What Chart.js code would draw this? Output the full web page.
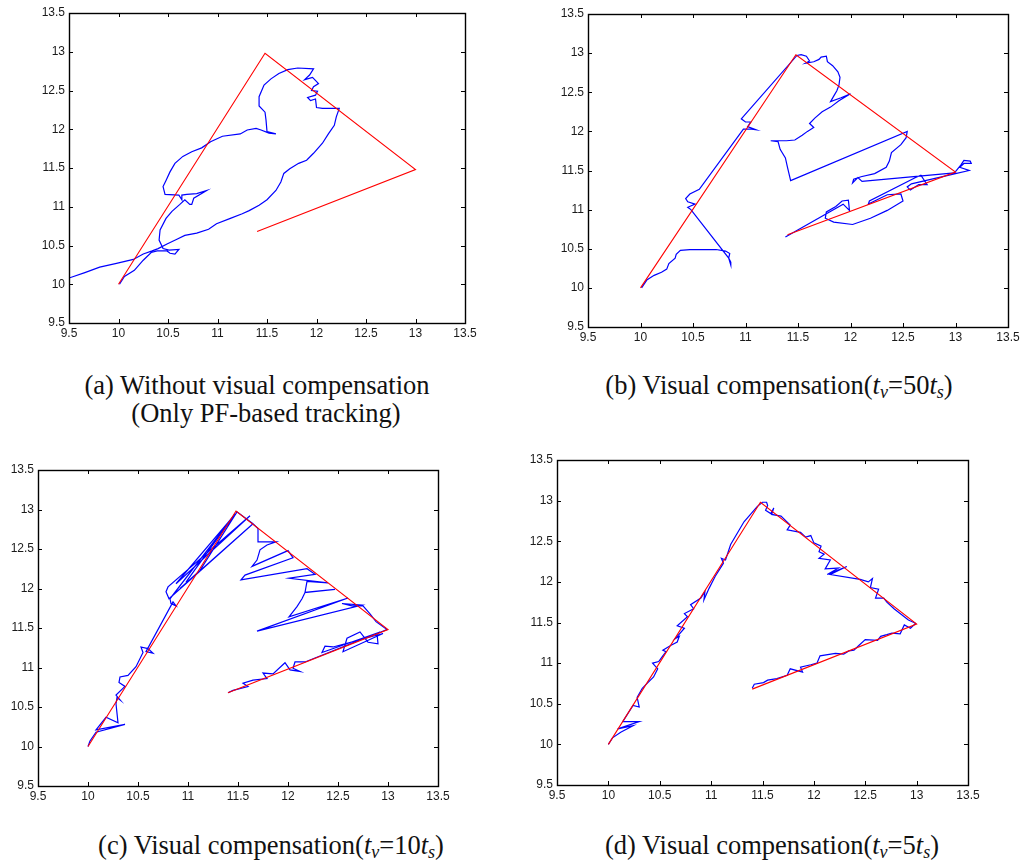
<!DOCTYPE html>
<html>
<head>
<meta charset="utf-8">
<script src="https://cdn.jsdelivr.net/npm/chart.js@4.4.1/dist/chart.umd.min.js"></script>
<style>
  html, body { margin: 0; padding: 0; background: #fff; }
  body { width: 1023px; height: 864px; position: relative; overflow: hidden; }
  canvas { position: absolute; }
  .cap {
    position: absolute; width: 520px; text-align: center; white-space: nowrap;
    font-family: "Liberation Serif", "Times New Roman", serif; font-size: 26.5px;
    line-height: 30px; color: #111;
  }
  .cap sub { font-size: 0.68em; vertical-align: -0.22em; line-height: 0; }
</style>
</head>
<body>
<canvas id="pa" width="482" height="345" style="left:0;top:0"></canvas>
<canvas id="pb" width="505" height="350" style="left:518px;top:0"></canvas>
<canvas id="pc" width="455" height="353" style="left:0;top:456px"></canvas>
<canvas id="pd" width="480" height="362" style="left:510px;top:446px"></canvas>

<div class="cap" style="left:-3px;top:370px">(a) Without visual compensation</div>
<div class="cap" style="left:6px;top:398px">(Only PF-based tracking)</div>
<div class="cap" style="left:519px;top:370px">(b) Visual compensation(<i>t</i><sub><i>v</i></sub>=50<i>t</i><sub><i>s</i></sub>)</div>
<div class="cap" style="left:11px;top:830px">(c) Visual compensation(<i>t</i><sub><i>v</i></sub>=10<i>t</i><sub><i>s</i></sub>)</div>
<div class="cap" style="left:512px;top:830px">(d) Visual compensation(<i>t</i><sub><i>v</i></sub>=5<i>t</i><sub><i>s</i></sub>)</div>

<script>
// reference path (red) shared by all four plots
const refX = [10, 11.48, 13, 11.4];
const refY = [10, 12.98, 11.48, 10.68];

// axis ticks
const axisMin = 9.5;
const axisMax = 13.5;
const axisStep = 0.5;

// (a) PF tracking only
const trackA = [
  [10.01,10.00],[10.06,10.10],[10.16,10.18],[10.25,10.31],[10.33,10.41],[10.39,10.43],
  [10.49,10.43],[10.52,10.40],[10.57,10.39],[10.61,10.45],[10.51,10.44],[10.45,10.46],
  [10.41,10.57],[10.42,10.70],[10.48,10.85],[10.54,10.94],[10.62,11.03],[10.67,11.09],
  [10.72,11.03],[10.74,11.03],[10.76,11.11],[10.89,11.21],[10.79,11.17],[10.69,11.16],
  [10.64,11.15],[10.64,11.09],[10.61,11.15],[10.47,11.16],[10.45,11.26],[10.48,11.34],
  [10.52,11.45],[10.57,11.56],[10.65,11.65],[10.74,11.71],[10.84,11.76],[10.93,11.84],
  [11.05,11.91],[11.23,11.94],[11.30,11.99],[11.39,12.01],[11.44,11.99],[11.52,11.95],
  [11.59,11.94],[11.50,11.97],[11.49,12.12],[11.48,12.22],[11.42,12.30],[11.42,12.42],
  [11.47,12.57],[11.54,12.65],[11.62,12.72],[11.71,12.77],[11.81,12.79],[11.97,12.78],
  [11.93,12.70],[11.88,12.64],[11.96,12.67],[12.02,12.59],[11.97,12.55],[11.95,12.50],
  [12.01,12.49],[11.99,12.44],[11.91,12.41],[11.94,12.37],[11.99,12.39],[12.00,12.28],
  [12.06,12.27],[12.23,12.27],[12.20,12.16],[12.18,12.05],[12.12,11.94],[12.06,11.82],
  [11.97,11.69],[11.90,11.60],[11.82,11.56],[11.73,11.49],[11.67,11.43],[11.64,11.32],
  [11.59,11.21],[11.50,11.09],[11.42,11.02],[11.32,10.95],[11.25,10.91],[11.13,10.85],
  [10.99,10.78],[10.91,10.71],[10.79,10.66],[10.67,10.63],[10.59,10.58],[10.49,10.52],
  [10.40,10.46],[10.34,10.43],[10.25,10.39],[10.15,10.32],[9.98,10.27],[9.81,10.22],
  [9.66,10.15],[9.50,10.08]
];

// (b) visual compensation, tv = 50 ts
const trackB = [
  [10.01,10.00],[10.06,10.10],[10.13,10.16],[10.20,10.20],[10.25,10.24],[10.27,10.31],
  [10.33,10.38],[10.34,10.43],[10.38,10.48],[10.47,10.49],[10.59,10.49],[10.72,10.49],
  [10.81,10.47],[10.85,10.44],[10.84,10.38],[10.86,10.33],[10.86,10.29],[10.84,10.38],
  [10.48,11.00],[10.45,11.03],[10.52,11.07],[10.45,11.10],[10.43,11.14],[10.47,11.20],
  [10.56,11.26],[10.98,12.03],[11.04,12.03],[11.10,12.02],[11.02,12.06],[11.05,12.12],
  [11.00,12.12],[10.96,12.16],[11.49,12.97],[11.53,12.98],[11.58,12.96],[11.61,12.90],
  [11.57,12.87],[11.65,12.89],[11.70,12.92],[11.72,12.95],[11.77,12.96],[11.78,12.89],
  [11.83,12.84],[11.88,12.76],[11.90,12.69],[11.89,12.59],[11.87,12.52],[11.84,12.45],
  [11.81,12.38],[11.91,12.43],[12.00,12.48],[11.89,12.39],[11.81,12.31],[11.73,12.25],
  [11.66,12.17],[11.61,12.10],[11.65,12.05],[11.59,12.00],[11.54,11.95],[11.47,11.89],
  [11.39,11.88],[11.31,11.88],[11.24,11.88],[11.31,11.87],[11.33,11.77],[11.38,11.66],
  [11.40,11.54],[11.43,11.37],[12.54,12.00],[12.53,11.92],[12.48,11.83],[12.39,11.73],
  [12.37,11.62],[12.34,11.54],[12.23,11.46],[12.10,11.42],[12.03,11.39],[12.02,11.34],
  [12.07,11.41],[12.11,11.36],[12.99,11.47],[13.05,11.57],[13.08,11.63],[13.14,11.62],
  [13.15,11.59],[13.08,11.59],[13.04,11.54],[13.13,11.50],[13.00,11.46],[12.58,11.33],
  [12.54,11.29],[12.57,11.25],[12.65,11.32],[12.73,11.32],[12.67,11.44],[12.62,11.41],
  [12.18,11.11],[12.17,11.07],[12.35,11.19],[12.48,11.20],[12.50,11.11],[12.35,10.99],
  [12.19,10.89],[12.02,10.81],[11.84,10.84],[11.76,10.89],[11.77,10.97],[11.86,11.04],
  [11.92,11.11],[11.98,11.12],[11.99,10.99],[11.93,11.07],[11.38,10.65]
];

// (c) visual compensation, tv = 10 ts
const trackC = [
  [10.00,10.00],[10.02,10.07],[10.08,10.18],[10.37,10.28],[10.08,10.21],[10.18,10.37],
  [10.30,10.30],[10.28,10.54],[10.29,10.62],[10.32,10.59],[10.28,10.65],[10.37,10.76],
  [10.31,10.81],[10.32,10.88],[10.40,10.90],[10.48,11.01],[10.55,11.19],[10.53,11.26],
  [10.60,11.24],[10.65,11.18],[10.58,11.20],[10.85,11.83],[10.88,11.78],[10.83,11.81],
  [10.82,11.87],[11.47,12.94],[10.98,12.08],[11.45,12.91],[10.88,12.06],[11.62,12.92],
  [10.80,12.02],[10.78,11.96],[10.81,11.87],[11.65,12.82],[10.92,12.00],[11.12,12.23],
  [11.49,12.97],[11.65,12.82],[11.70,12.76],[11.70,12.59],[11.88,12.59],[11.79,12.55],
  [11.72,12.49],[11.69,12.36],[11.64,12.28],[12.00,12.48],[12.05,12.39],[11.57,12.17],
  [11.53,12.11],[12.19,12.25],[12.27,12.18],[12.01,12.13],[12.40,12.07],[12.19,12.09],
  [12.17,11.95],[12.47,11.99],[12.17,11.95],[12.14,11.87],[12.09,11.77],[12.01,11.64],
  [12.60,11.88],[11.69,11.46],[12.74,11.79],[12.54,11.81],[12.64,11.78],[12.75,11.78],
  [12.82,11.68],[12.88,11.58],[12.99,11.48],[12.89,11.43],[12.90,11.30],[12.80,11.32],
  [12.72,11.45],[12.59,11.37],[12.55,11.20],[12.95,11.43],[12.45,11.26],[12.37,11.27],
  [12.34,11.19],[12.92,11.45],[12.17,11.07],[12.07,11.07],[12.05,10.99],[12.12,10.95],
  [12.02,10.97],[11.97,11.06],[11.85,10.92],[11.75,10.93],[11.79,10.86],[11.65,10.84],
  [11.55,10.80],[11.60,10.76],[11.45,10.71],[11.40,10.68]
];

// (d) visual compensation, tv = 5 ts
const trackD = [
  [10.00,10.00],[10.04,10.08],[10.12,10.15],[10.24,10.23],[10.09,10.19],[10.30,10.28],
  [10.14,10.28],[10.20,10.40],[10.24,10.48],[10.30,10.46],[10.28,10.58],[10.33,10.69],
  [10.36,10.73],[10.44,10.83],[10.48,10.93],[10.43,11.00],[10.49,11.02],[10.53,11.09],
  [10.56,11.14],[10.53,11.16],[10.61,11.22],[10.67,11.26],[10.69,11.33],[10.65,11.30],
  [10.74,11.43],[10.67,11.46],[10.77,11.57],[10.74,11.61],[10.83,11.67],[10.80,11.72],
  [10.90,11.80],[10.94,11.88],[10.93,11.78],[10.98,11.92],[11.04,12.07],[11.09,12.17],
  [11.12,12.23],[11.10,12.29],[11.14,12.27],[11.19,12.46],[11.32,12.74],[11.45,12.93],
  [11.50,12.98],[11.54,12.98],[11.55,12.94],[11.53,12.88],[11.58,12.84],[11.61,12.91],
  [11.59,12.83],[11.68,12.81],[11.77,12.70],[11.74,12.64],[11.87,12.61],[11.92,12.55],
  [11.97,12.57],[12.00,12.48],[12.07,12.44],[12.05,12.37],[12.10,12.34],[12.05,12.29],
  [12.16,12.27],[12.11,12.16],[12.24,12.17],[12.13,12.09],[12.32,12.19],[12.16,12.09],
  [12.45,12.03],[12.53,12.00],[12.57,12.04],[12.55,11.93],[12.63,11.91],[12.60,11.80],
  [12.68,11.80],[12.71,11.75],[12.78,11.67],[12.92,11.53],[12.99,11.49],[12.94,11.43],
  [12.88,11.47],[12.84,11.36],[12.76,11.37],[12.71,11.35],[12.65,11.33],[12.62,11.28],
  [12.50,11.29],[12.44,11.22],[12.39,11.16],[12.34,11.15],[12.29,11.11],[12.21,11.12],
  [12.06,11.09],[12.03,11.00],[11.97,10.98],[11.87,10.95],[11.89,10.89],[11.77,10.93],
  [11.74,10.85],[11.64,10.81],[11.55,10.79],[11.51,10.76],[11.42,10.74],[11.40,10.69]
];

// box frame with inward tick marks on all four sides
const boxTicks = {
  id: 'boxTicks',
  afterDraw(chart) {
    const { ctx, chartArea: a, scales: { x, y } } = chart;
    const len = 4;
    ctx.save();
    ctx.strokeStyle = '#000';
    ctx.lineWidth = 1;
    ctx.beginPath();
    x.ticks.forEach(t => {
      const px = Math.round(x.getPixelForValue(t.value)) + 0.5;
      ctx.moveTo(px, a.top); ctx.lineTo(px, a.top + len);
      ctx.moveTo(px, a.bottom); ctx.lineTo(px, a.bottom - len);
    });
    y.ticks.forEach(t => {
      const py = Math.round(y.getPixelForValue(t.value)) + 0.5;
      ctx.moveTo(a.left, py); ctx.lineTo(a.left + len, py);
      ctx.moveTo(a.right, py); ctx.lineTo(a.right - len, py);
    });
    ctx.stroke();
    ctx.lineWidth = 1.4;
    ctx.strokeRect(Math.round(a.left) + 0.5, Math.round(a.top) + 0.5,
                   Math.round(a.width), Math.round(a.height));
    ctx.restore();
  }
};

function axis(fitSize, isX) {
  return {
    type: 'linear',
    min: axisMin,
    max: axisMax,
    grid: { display: false, drawTicks: false },
    border: { display: false },
    ticks: {
      stepSize: axisStep,
      autoSkip: false,
      maxRotation: 0,
      padding: isX ? 3 : 4,
      color: '#1a1a1a',
      font: { family: '"Liberation Sans", Arial, sans-serif', size: 12 },
      callback: v => String(Math.round(v * 10) / 10)
    },
    afterFit(scale) {
      if (isX) scale.height = fitSize; else scale.width = fitSize;
    }
  };
}

function drawPanel(id, track, yW, xH, padTop, padRight) {
  const pairs = (xs, ys) => xs.map((v, i) => ({ x: v, y: ys[i] }));
  new Chart(document.getElementById(id), {
    type: 'scatter',
    data: {
      datasets: [
        {
          data: pairs(refX, refY),
          showLine: true, borderColor: '#ff0000', borderWidth: 1.1,
          pointRadius: 0, tension: 0
        },
        {
          data: track.map(p => ({ x: p[0], y: p[1] })),
          showLine: true, borderColor: '#0000ff', borderWidth: 1.2,
          pointRadius: 0, tension: 0
        }
      ]
    },
    options: {
      responsive: false,
      animation: false,
      events: [],
      layout: { padding: { top: padTop, right: padRight, left: 0, bottom: 0 } },
      plugins: { legend: { display: false }, tooltip: { enabled: false } },
      scales: { x: axis(xH, true), y: axis(yW, false) }
    },
    plugins: [boxTicks]
  });
}

drawPanel('pa', trackA, 69, 22, 13, 17);
drawPanel('pb', trackB, 70, 23, 14, 15);
drawPanel('pc', trackC, 38, 23, 14, 17);
drawPanel('pd', trackD, 47, 23, 14, 22);
</script>
</body>
</html>
